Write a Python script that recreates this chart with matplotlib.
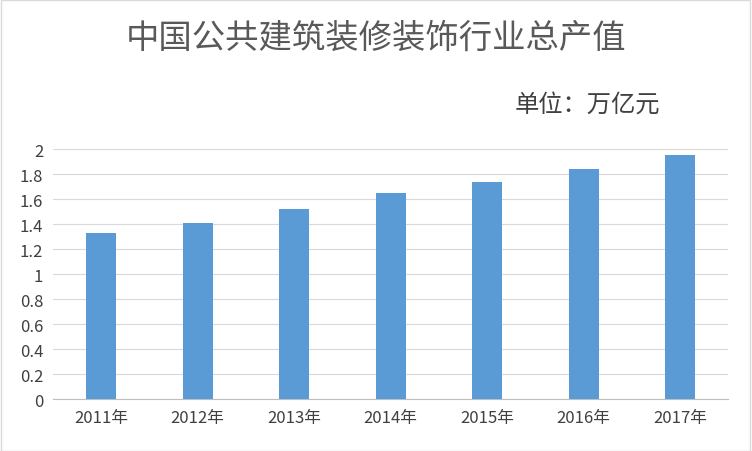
import matplotlib
matplotlib.use("Agg")
import matplotlib.pyplot as plt
from matplotlib.patches import Rectangle

plt.rcParams['font.family'] = ['Noto Sans CJK SC', 'DejaVu Sans']

years = ["2011年", "2012年", "2013年", "2014年", "2015年", "2016年", "2017年"]
values = [1.33, 1.41, 1.52, 1.65, 1.74, 1.84, 1.95]
yticks = [0, 0.2, 0.4, 0.6, 0.8, 1, 1.2, 1.4, 1.6, 1.8, 2]
ytick_labels = ["0", "0.2", "0.4", "0.6", "0.8", "1", "1.2", "1.4", "1.6", "1.8", "2"]

fig = plt.figure(figsize=(7.52, 4.52), dpi=100)
ax = fig.add_axes([0.0705, 0.115, 0.898, 0.553])
x = range(len(years))
ax.bar(x, values, width=0.31, color="#5B9BD5", zorder=3)
ax.set_xlim(-0.5, len(years) - 0.5)
ax.set_ylim(0, 2)
ax.set_yticks(yticks)
ax.set_yticklabels(ytick_labels)
ax.set_xticks(list(x))
ax.set_xticklabels(years)
ax.grid(axis="y", color="#D9D9D9", linewidth=0.8, zorder=0)
for s in ["top", "right", "left"]:
    ax.spines[s].set_visible(False)
ax.spines["bottom"].set_color("#BFBFBF")
ax.tick_params(axis="both", length=0, labelsize=12, colors="#404040", pad=7)

fig.text(0.5, 0.915, "中国公共建筑装修装饰行业总产值", ha="center", va="center",
         fontsize=24, color="#595959")
fig.text(0.685, 0.768, "单位：万亿元", ha="left", va="center", fontsize=17.5, color="#404040")
fig.patches.append(Rectangle((0.001, 0.001), 0.997, 0.997, transform=fig.transFigure,
                             fill=False, edgecolor="#D9D9D9", linewidth=1))
fig.savefig("out.png", dpi=100)
